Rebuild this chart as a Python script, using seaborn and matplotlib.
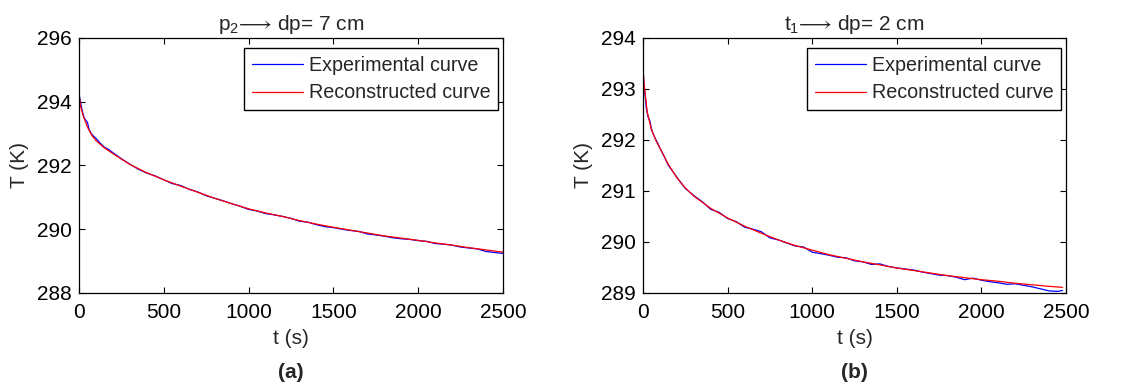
import matplotlib
matplotlib.use("Agg")
import matplotlib.pyplot as plt
import seaborn as sns
import pandas as pd

# ---- data: panel (a), probe p2, dp = 7 cm ----
t_exp_a = [0, 10, 20, 30, 40, 50, 60, 70, 80, 90, 100, 125, 150, 175, 200,
           250, 300, 350, 400, 450, 500, 550, 600, 650, 700, 750, 800, 850,
           900, 950, 1000, 1050, 1100, 1150, 1200, 1250, 1300, 1350, 1400,
           1450, 1500, 1550, 1600, 1650, 1700, 1750, 1800, 1850, 1900, 1950,
           2000, 2050, 2100, 2150, 2200, 2250, 2300, 2350, 2400, 2450, 2500]
T_exp_a = [294.25, 293.95, 293.70, 293.50, 293.42, 293.35, 293.12, 293.02,
           292.95, 292.90, 292.85, 292.70, 292.57, 292.50, 292.40, 292.21,
           292.04, 291.88, 291.76, 291.67, 291.55, 291.43, 291.37, 291.25,
           291.17, 291.05, 290.97, 290.89, 290.80, 290.72, 290.62, 290.57,
           290.49, 290.45, 290.40, 290.34, 290.25, 290.22, 290.14, 290.08,
           290.05, 290.00, 289.96, 289.93, 289.85, 289.82, 289.78, 289.73,
           289.70, 289.68, 289.64, 289.62, 289.55, 289.53, 289.50, 289.44,
           289.41, 289.38, 289.30, 289.27, 289.24]
t_rec_a = [0, 10, 25, 50, 75, 100, 150, 200, 250, 300, 400, 500, 600, 700,
           800, 900, 1000, 1100, 1200, 1300, 1400, 1500, 1600, 1700, 1800,
           1900, 2000, 2100, 2200, 2300, 2400, 2500]
T_rec_a = [294.22, 293.85, 293.55, 293.20, 292.95, 292.78, 292.55, 292.37,
           292.20, 292.03, 291.77, 291.55, 291.35, 291.16, 290.97, 290.80,
           290.64, 290.51, 290.40, 290.27, 290.16, 290.06, 289.97, 289.88,
           289.79, 289.72, 289.65, 289.57, 289.50, 289.42, 289.35, 289.28]

# ---- data: panel (b), probe t1, dp = 2 cm ----
t_exp_b = [0, 5, 10, 20, 30, 40, 50, 60, 70, 80, 90, 100, 125, 150, 175, 200,
           250, 300, 350, 400, 450, 500, 550, 600, 650, 700, 750, 800, 850,
           900, 950, 1000, 1050, 1100, 1150, 1200, 1250, 1300, 1350, 1400,
           1450, 1500, 1550, 1600, 1650, 1700, 1750, 1800, 1850, 1900, 1950,
           2000, 2050, 2100, 2150, 2200, 2250, 2300, 2350, 2400, 2450, 2480]
T_exp_b = [293.45, 293.10, 292.95, 292.62, 292.45, 292.38, 292.22, 292.12,
           292.05, 291.98, 291.92, 291.84, 291.68, 291.50, 291.39, 291.27,
           291.05, 290.91, 290.79, 290.64, 290.58, 290.46, 290.40, 290.29,
           290.25, 290.20, 290.08, 290.04, 289.98, 289.92, 289.90, 289.80,
           289.77, 289.74, 289.70, 289.69, 289.63, 289.61, 289.56, 289.57,
           289.52, 289.49, 289.47, 289.45, 289.41, 289.38, 289.35, 289.34,
           289.31, 289.26, 289.29, 289.25, 289.22, 289.20, 289.17, 289.18,
           289.15, 289.12, 289.08, 289.04, 289.03, 289.05]
t_rec_b = [0, 5, 10, 25, 50, 75, 100, 150, 200, 250, 300, 400, 500, 600, 700,
           800, 900, 1000, 1100, 1200, 1300, 1400, 1500, 1600, 1700, 1800,
           1900, 2000, 2100, 2200, 2300, 2400, 2480]
T_rec_b = [293.48, 293.15, 293.00, 292.55, 292.20, 292.00, 291.84, 291.52,
           291.26, 291.06, 290.90, 290.66, 290.47, 290.31, 290.17, 290.04,
           289.93, 289.84, 289.75, 289.68, 289.61, 289.55, 289.49, 289.44,
           289.39, 289.34, 289.30, 289.26, 289.23, 289.19, 289.16, 289.13,
           289.11]

titles = ["p$_2$$\u27f6$ dp= 7 cm", "t$_1$$\u27f6$ dp= 2 cm"]
panel_tags = ["(a)", "(b)"]
y_limits = [(288, 296), (289, 294)]
y_ticks = [[288, 290, 292, 294, 296], [289, 290, 291, 292, 293, 294]]
x_ticks = [0, 500, 1000, 1500, 2000, 2500]

FS = 15
FS_LEG = 14.2

sns.set_style("white")
plt.rcParams["font.family"] = ["Liberation Sans", "DejaVu Sans"]
plt.rcParams["mathtext.fontset"] = "custom"
plt.rcParams["mathtext.rm"] = "Liberation Sans"
plt.rcParams["mathtext.it"] = "Liberation Sans:italic"
plt.rcParams["mathtext.default"] = "regular"
plt.rcParams["mathtext.fallback"] = "stixsans"

fig = plt.figure(figsize=(11.35, 3.87), dpi=100)
axes = [fig.add_axes([0.0696, 0.243, 0.3736, 0.659]),
        fig.add_axes([0.5665, 0.243, 0.3727, 0.659])]

series = [(t_exp_a, T_exp_a, t_rec_a, T_rec_a),
          (t_exp_b, T_exp_b, t_rec_b, T_rec_b)]

for i, ax in enumerate(axes):
    te, Te, tr, Tr = series[i]
    df_e = pd.DataFrame({"t": te, "T": Te})
    df_r = pd.DataFrame({"t": tr, "T": Tr})
    sns.lineplot(data=df_e, x="t", y="T", ax=ax, color="#0000ff", lw=0.9,
                 label="Experimental curve")
    sns.lineplot(data=df_r, x="t", y="T", ax=ax, color="#ff0000", lw=0.9,
                 label="Reconstructed curve")
    ax.set_xlim(0, 2500)
    ax.set_ylim(*y_limits[i])
    ax.set_xticks(x_ticks)
    ax.set_yticks(y_ticks[i])
    ax.tick_params(direction="in", length=4, width=0.8, labelsize=FS,
                   top=True, right=True, bottom=True, left=True, colors="black")
    ax.tick_params(axis="x", pad=7)
    ax.tick_params(axis="y", pad=5)
    for s in ax.spines.values():
        s.set_color("black")
        s.set_linewidth(0.9)
    ax.set_xlabel("t (s)", fontsize=FS, labelpad=5)
    ax.set_ylabel("T (K)", fontsize=FS, labelpad=6)
    ax.set_title(titles[i], fontsize=FS, pad=6)
    leg = ax.legend(loc="upper right", bbox_to_anchor=(0.988, 0.96),
                    fontsize=FS_LEG, frameon=True, fancybox=False,
                    edgecolor="black", framealpha=1, handlelength=2.6,
                    labelspacing=0.45, borderpad=0.38, handletextpad=0.3,
                    borderaxespad=0.0)
    leg.get_frame().set_linewidth(1.0)
    bb = ax.get_position()
    fig.text(bb.x0 + bb.width / 2, 0.038, panel_tags[i], ha="center",
             va="center", fontsize=FS, fontweight="bold")

fig.savefig("out.png", dpi=100)
